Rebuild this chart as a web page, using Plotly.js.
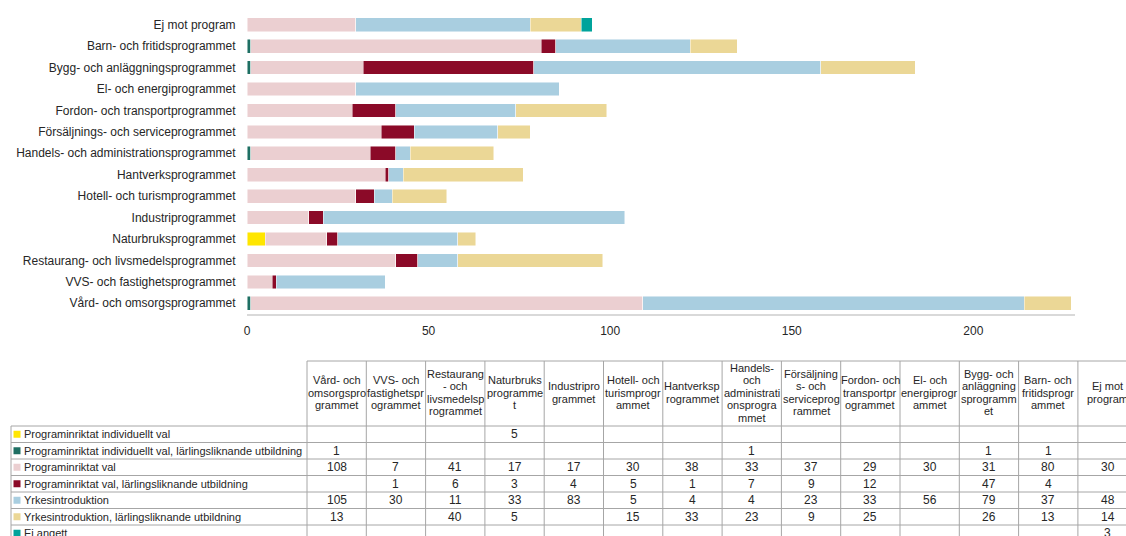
<!DOCTYPE html>
<html>
<head>
<meta charset="utf-8">
<script src="https://cdn.plot.ly/plotly-3.0.1.min.js"></script>
<style>
  html, body { margin: 0; padding: 0; background: #fff; overflow: hidden; }
  #chart { width: 1126px; height: 536px; }
</style>
</head>
<body>
<div id="chart"></div>
<script>
// programmes, in table order (first one is drawn at the bottom of the bar chart)
const programs = [
  'Vård- och omsorgsprogrammet',
  'VVS- och fastighetsprogrammet',
  'Restaurang- och livsmedelsprogrammet',
  'Naturbruksprogrammet',
  'Industriprogrammet',
  'Hotell- och turismprogrammet',
  'Hantverksprogrammet',
  'Handels- och administrationsprogrammet',
  'Försäljnings- och serviceprogrammet',
  'Fordon- och transportprogrammet',
  'El- och energiprogrammet',
  'Bygg- och anläggningsprogrammet',
  'Barn- och fritidsprogrammet',
  'Ej mot program'
];

// column headers of the data table, wrapped like in the original
const headerLines = [
  ['Vård- och', 'omsorgspro', 'grammet'],
  ['VVS- och', 'fastighetspr', 'ogrammet'],
  ['Restaurang', '- och', 'livsmedelsp', 'rogrammet'],
  ['Naturbruks', 'programme', 't'],
  ['Industripro', 'grammet'],
  ['Hotell- och', 'turismprogr', 'ammet'],
  ['Hantverksp', 'rogrammet'],
  ['Handels-', 'och', 'administrati', 'onsprogra', 'mmet'],
  ['Försäljning', 's- och', 'serviceprog', 'rammet'],
  ['Fordon- och', 'transportpr', 'ogrammet'],
  ['El- och', 'energiprogr', 'ammet'],
  ['Bygg- och', 'anläggning', 'sprogramm', 'et'],
  ['Barn- och', 'fritidsprogr', 'ammet'],
  ['Ej mot', 'program']
];

const seriesNames = [
  'Programinriktat individuellt val',
  'Programinriktat individuellt val, lärlingsliknande utbildning',
  'Programinriktat val',
  'Programinriktat val, lärlingsliknande utbildning',
  'Yrkesintroduktion',
  'Yrkesintroduktion, lärlingsliknande utbildning',
  'Ej angett'
];

const indivVal      = [null, null, null, 5, null, null, null, null, null, null, null, null, null, null];
const indivValLarl  = [1, null, null, null, null, null, null, 1, null, null, null, 1, 1, null];
const progVal       = [108, 7, 41, 17, 17, 30, 38, 33, 37, 29, 30, 31, 80, 30];
const progValLarl   = [null, 1, 6, 3, 4, 5, 1, 7, 9, 12, null, 47, 4, null];
const yrkesintro    = [105, 30, 11, 33, 83, 5, 4, 4, 23, 33, 56, 79, 37, 48];
const yrkesintroLarl = [13, null, 40, 5, null, 15, 33, 23, 9, 25, null, 26, 13, 14];
const ejAngett      = [null, null, null, null, null, null, null, null, null, null, null, null, null, 3];

const seriesValues = [indivVal, indivValLarl, progVal, progValLarl, yrkesintro, yrkesintroLarl, ejAngett];
const colors = ['#FFE600', '#1E6F63', '#EBCFD1', '#8B0A28', '#A9CEE0', '#EBD796', '#00A39B'];

const W = 1126, H = 536;
const px = x => x / W;
const py = y => 1 - y / H;

const textColor = '#262626';
const font = 'Liberation Sans, Arial, sans-serif';

// bar traces
let data = [];
for (let s = 0; s < seriesNames.length; s++) {
  data.push({
    type: 'bar',
    orientation: 'h',
    name: seriesNames[s],
    y: programs,
    x: seriesValues[s],
    marker: { color: colors[s], line: { color: 'rgba(255,255,255,0.6)', width: 0.8 } },
    hoverinfo: 'x+name'
  });
}

// data table drawn below the chart
const tLeft = 11, colStart = 307, colW = 59.3;
const headTop = 361, headBottom = 426, rowH = 16.5;
const nCols = programs.length, nRows = seriesNames.length;
const tRight = colStart + nCols * colW;
const tBottom = headBottom + nRows * rowH;
const gridColor = '#a6a6a6';

let shapes = [];
let annotations = [];

function line(x0, y0, x1, y1) {
  shapes.push({
    type: 'line', xref: 'paper', yref: 'paper',
    x0: px(x0), y0: py(y0), x1: px(x1), y1: py(y1),
    line: { color: gridColor, width: 1 }
  });
}

// grid
line(colStart, headTop, tRight, headTop);
for (let k = 0; k <= nRows; k++) {
  line(tLeft, headBottom + k * rowH, tRight, headBottom + k * rowH);
}
line(tLeft, headBottom, tLeft, tBottom);
for (let j = 0; j <= nCols; j++) {
  line(colStart + j * colW, headTop, colStart + j * colW, tBottom);
}

// header text
const lineGap = 12.5;
for (let j = 0; j < nCols; j++) {
  const lines = headerLines[j];
  const cy = (headTop + headBottom) / 2 - 1;
  for (let i = 0; i < lines.length; i++) {
    annotations.push({
      xref: 'paper', yref: 'paper',
      x: px(colStart + (j + 0.5) * colW),
      y: py(cy + (i - (lines.length - 1) / 2) * lineGap),
      text: lines[i], showarrow: false,
      xanchor: 'center', yanchor: 'middle',
      font: { family: font, size: 11, color: textColor }
    });
  }
}

// legend keys + row labels + values
for (let s = 0; s < nRows; s++) {
  const cy = headBottom + (s + 0.5) * rowH;
  shapes.push({
    type: 'rect', xref: 'paper', yref: 'paper',
    x0: px(13.5), x1: px(20.5), y0: py(cy - 3.5), y1: py(cy + 3.5),
    fillcolor: colors[s], line: { width: 0 }
  });
  annotations.push({
    xref: 'paper', yref: 'paper',
    x: px(21.5), y: py(cy),
    text: seriesNames[s], showarrow: false,
    xanchor: 'left', yanchor: 'middle',
    font: { family: font, size: 11, color: textColor }
  });
  for (let j = 0; j < nCols; j++) {
    const v = seriesValues[s][j];
    if (v === null) continue;
    annotations.push({
      xref: 'paper', yref: 'paper',
      x: px(colStart + (j + 0.5) * colW), y: py(cy),
      text: String(v), showarrow: false,
      xanchor: 'center', yanchor: 'middle',
      font: { family: font, size: 12, color: textColor }
    });
  }
}

const layout = {
  width: W,
  height: H,
  barmode: 'stack',
  bargap: 0.36,
  showlegend: false,
  paper_bgcolor: '#fff',
  plot_bgcolor: '#fff',
  margin: { l: 0, r: 0, t: 0, b: 0 },
  font: { family: font, size: 12, color: textColor },
  xaxis: {
    domain: [px(247), px(1075)],
    range: [0, 228],
    tickvals: [0, 50, 100, 150, 200],
    showgrid: false,
    zeroline: false,
    showline: true,
    linecolor: '#d9d9d9',
    linewidth: 1.5,
    ticks: 'outside',
    ticklen: 5,
    tickcolor: 'rgba(0,0,0,0)',
    tickfont: { family: font, size: 12, color: textColor },
    automargin: false
  },
  yaxis: {
    domain: [py(314), py(14)],
    type: 'category',
    categoryorder: 'array',
    categoryarray: programs,
    showgrid: false,
    zeroline: false,
    showline: false,
    ticks: 'outside',
    ticklen: 8,
    tickcolor: 'rgba(0,0,0,0)',
    tickfont: { family: font, size: 12, color: textColor },
    automargin: false
  },
  shapes: shapes,
  annotations: annotations
};

Plotly.newPlot('chart', data, layout, { displayModeBar: false, staticPlot: true });
</script>
</body>
</html>
